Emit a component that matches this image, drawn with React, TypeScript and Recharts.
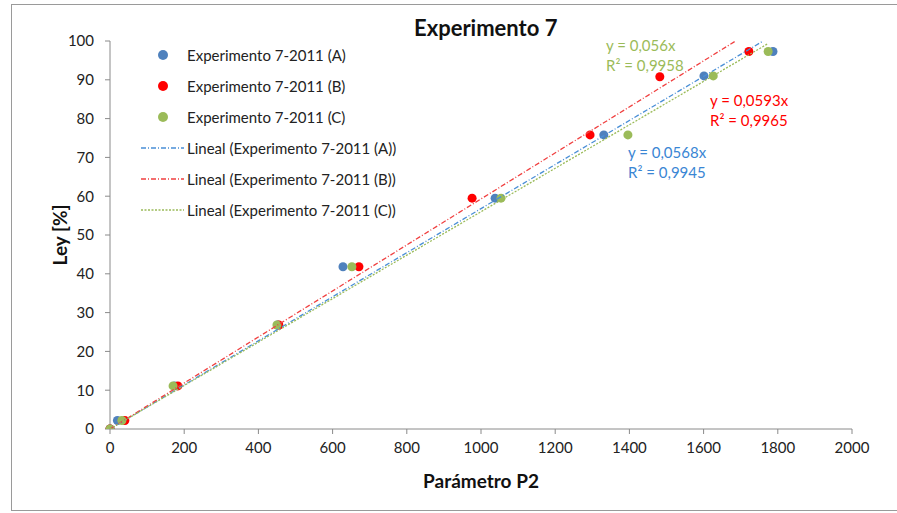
import {
  ScatterChart,
  Scatter,
  XAxis,
  YAxis,
  ZAxis,
  Label,
} from 'recharts'

// ─── Data ─────────────────────────────────────────────────────────────────────

const xA = [0, 20, 174, 452, 628, 1038, 1331, 1601, 1787]
const yA = [0, 2.2, 11.1, 26.8, 41.8, 59.5, 75.8, 91.0, 97.3]

const xB = [0, 40, 183, 455, 671, 976, 1294, 1482, 1722]
const yB = [0, 2.2, 11.1, 26.8, 41.8, 59.5, 75.8, 90.8, 97.3]

const xC = [0, 32, 170, 450, 652, 1054, 1396, 1626, 1774]
const yC = [0, 2.2, 11.1, 26.8, 41.8, 59.5, 75.8, 91.0, 97.3]

// trendline slopes (Excel linear fit through origin)
const slopeA = 0.0568
const slopeB = 0.0593
const slopeC = 0.056

const xTicks = [0, 200, 400, 600, 800, 1000, 1200, 1400, 1600, 1800, 2000]
const yTicks = [0, 10, 20, 30, 40, 50, 60, 70, 80, 90, 100]

const BLUE = '#4F81BD'
const RED = '#FF0000'
const GREEN = '#9BBB59'
const FONT = 'Lato, "Open Sans", sans-serif'

// ─── Helpers ──────────────────────────────────────────────────────────────────

const toPoints = (xs: number[], ys: number[]) => xs.map((x, i) => ({ x, y: ys[i] }))

function trend(slope: number, xs: number[]) {
  const xMax = Math.min(Math.max(...xs), 100 / slope)
  return [{ x: 0, y: 0 }, { x: xMax, y: slope * xMax }]
}

const SERIES = [
  { name: 'Experimento 7-2011 (A)', color: BLUE, kind: 'dot' },
  { name: 'Experimento 7-2011 (B)', color: RED, kind: 'dot' },
  { name: 'Experimento 7-2011 (C)', color: GREEN, kind: 'dot' },
  { name: 'Lineal (Experimento 7-2011 (A))', color: '#4A8FD6', kind: 'line', dash: '5 2 1 2' },
  { name: 'Lineal (Experimento 7-2011 (B))', color: '#F04040', kind: 'line', dash: '5 2 1 2' },
  { name: 'Lineal (Experimento 7-2011 (C))', color: GREEN, kind: 'line', dash: '2 1.5' },
]

// ─── Legend ───────────────────────────────────────────────────────────────────

function ChartLegend() {
  return (
    <div style={{ position: 'absolute', left: 140, top: 39, fontFamily: FONT, fontSize: 15, color: '#222' }}>
      {SERIES.map((s) => (
        <div key={s.name} style={{ display: 'flex', alignItems: 'center', height: 31 }}>
          <svg width={47} height={12} style={{ flexShrink: 0 }}>
            {s.kind === 'dot' ? (
              <circle cx={23} cy={6} r={5} fill={s.color} />
            ) : (
              <line x1={1} y1={6} x2={44} y2={6} stroke={s.color} strokeWidth={1.3} strokeDasharray={s.dash} />
            )}
          </svg>
          <span style={{ whiteSpace: 'nowrap' }}>{s.name}</span>
        </div>
      ))}
    </div>
  )
}

const noShape = () => <g />

// ─── App ──────────────────────────────────────────────────────────────────────

export default function App() {
  const tickStyle = { fontFamily: FONT, fontSize: 15, fill: '#222' }
  const noteStyle = (color: string, left: number, top: number) => ({
    position: 'absolute' as const,
    left,
    top,
    color,
    fontFamily: FONT,
    fontSize: 15,
    lineHeight: '20px',
    whiteSpace: 'nowrap' as const,
  })

  return (
    <div style={{ position: 'absolute', left: 0, top: 0, width: 897, height: 513, overflow: 'hidden', background: '#fff' }}>
      <div style={{ position: 'absolute', left: 11, top: 4, width: 900, height: 505, border: '1px solid #9a9a9a' }} />
      <div
        style={{
          position: 'absolute', left: 414, top: 14, width: 140, textAlign: 'center',
          fontFamily: FONT, fontWeight: 700, fontSize: 22, color: '#111', whiteSpace: 'nowrap',
        }}
      >
        Experimento 7
      </div>
      <ScatterChart width={897} height={513} margin={{ top: 41, right: 45, bottom: 54, left: 50 }} style={{ position: 'absolute', left: 0, top: 0 }}>
        <XAxis
          type="number"
          dataKey="x"
          domain={[0, 2000]}
          ticks={xTicks}
          tick={tickStyle}
          tickSize={5}
          tickMargin={8}
          stroke="#8a8a8a"
          height={30}
        >
          <Label value="Parámetro P2" position="bottom" offset={16} style={{ fontFamily: FONT, fontWeight: 700, fontSize: 19, fill: '#111' }} />
        </XAxis>
        <YAxis
          type="number"
          dataKey="y"
          domain={[0, 100]}
          ticks={yTicks}
          tick={tickStyle}
          tickSize={5}
          tickMargin={11}
          stroke="#8a8a8a"
          width={60}
          allowDataOverflow
        >
          <Label value="Ley [%]" angle={-90} position="insideLeft" offset={10} style={{ fontFamily: FONT, fontWeight: 700, fontSize: 19, fill: '#111', textAnchor: 'middle' }} />
        </YAxis>
        <ZAxis range={[80, 80]} />
        <Scatter data={toPoints(xA, yA)} fill={BLUE} isAnimationActive={false} />
        <Scatter data={toPoints(xB, yB)} fill={RED} isAnimationActive={false} />
        <Scatter data={toPoints(xC, yC)} fill={GREEN} isAnimationActive={false} />
        <Scatter data={trend(slopeA, xA)} line={{ stroke: SERIES[3].color, strokeWidth: 1.3, strokeDasharray: SERIES[3].dash }} shape={noShape} legendType="none" isAnimationActive={false} />
        <Scatter data={trend(slopeB, xB)} line={{ stroke: SERIES[4].color, strokeWidth: 1.3, strokeDasharray: SERIES[4].dash }} shape={noShape} legendType="none" isAnimationActive={false} />
        <Scatter data={trend(slopeC, xC)} line={{ stroke: SERIES[5].color, strokeWidth: 1.3, strokeDasharray: SERIES[5].dash }} shape={noShape} legendType="none" isAnimationActive={false} />
      </ScatterChart>
      <ChartLegend />
      <div style={noteStyle(GREEN, 606, 35)}>y = 0,056x<br />R² = 0,9958</div>
      <div style={noteStyle(RED, 710, 90)}>y = 0,0593x<br />R² = 0,9965</div>
      <div style={noteStyle('#3A86D4', 628, 142)}>y = 0,0568x<br />R² = 0,9945</div>
    </div>
  )
}
